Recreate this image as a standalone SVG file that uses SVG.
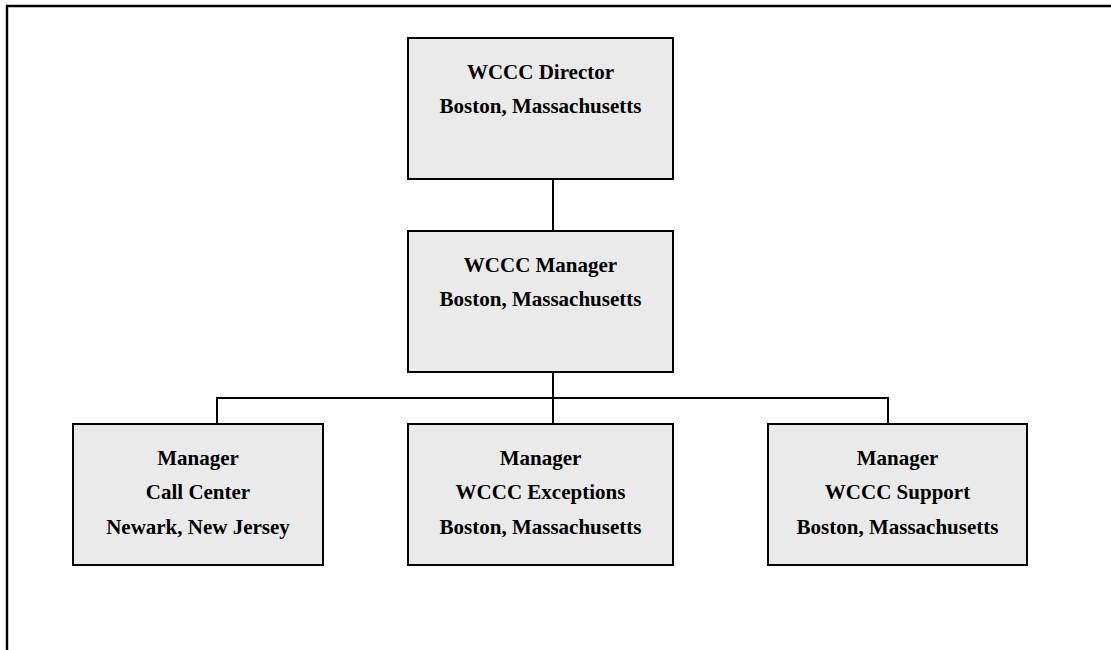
<svg xmlns="http://www.w3.org/2000/svg" width="1111" height="650" viewBox="0 0 1111 650">
  <style>
    .box { fill: #eaeaea; stroke: #000; stroke-width: 2; }
    .wire { fill: none; stroke: #000; stroke-width: 2; }
    .frame { fill: none; stroke: #000; stroke-width: 2.4; }
    text { font-family: "Liberation Serif", "Times New Roman", serif; font-weight: bold; font-size: 21px; fill: #000; text-anchor: middle; }
  </style>
  <rect width="1111" height="650" fill="#fff"/>
  <!-- page frame running off the right and bottom edges -->
  <path class="frame" d="M7 660 V6 H1120"/>

  <g id="connectors">
    <path class="wire" d="M553 179 V231"/>
    <path class="wire" d="M553 372 V424"/>
    <path class="wire" d="M217 424 V398 H888 V424"/>
  </g>

  <g id="director">
    <rect class="box" x="408" y="38" width="265" height="141"/>
    <text x="540.5" y="79">WCCC Director</text>
    <text x="540.5" y="113">Boston, Massachusetts</text>
  </g>

  <g id="manager">
    <rect class="box" x="408" y="231" width="265" height="141"/>
    <text x="540.5" y="272">WCCC Manager</text>
    <text x="540.5" y="306">Boston, Massachusetts</text>
  </g>

  <g id="call-center">
    <rect class="box" x="73" y="424" width="250" height="141"/>
    <text x="198" y="465">Manager</text>
    <text x="198" y="499">Call Center</text>
    <text x="198" y="534">Newark, New Jersey</text>
  </g>

  <g id="exceptions">
    <rect class="box" x="408" y="424" width="265" height="141"/>
    <text x="540.5" y="465">Manager</text>
    <text x="540.5" y="499">WCCC Exceptions</text>
    <text x="540.5" y="534">Boston, Massachusetts</text>
  </g>

  <g id="support">
    <rect class="box" x="768" y="424" width="259" height="141"/>
    <text x="897.5" y="465">Manager</text>
    <text x="897.5" y="499">WCCC Support</text>
    <text x="897.5" y="534">Boston, Massachusetts</text>
  </g>
</svg>
